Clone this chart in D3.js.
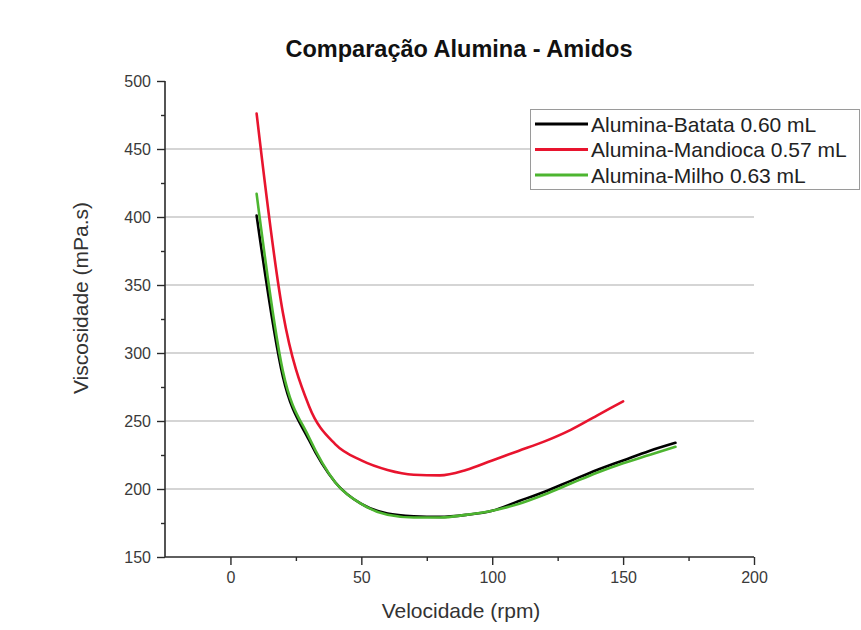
<!DOCTYPE html>
<html>
<head>
<meta charset="utf-8">
<script src="https://cdn.jsdelivr.net/npm/d3@7"></script>
<style>
  html, body { margin: 0; padding: 0; background: #fff; }
  svg { display: block; }
  text { font-family: "Liberation Sans", Arial, sans-serif; }
</style>
</head>
<body>
<svg id="chart" width="861" height="630"></svg>
<script>
// Rotational speed (rpm) at which viscosity was measured
const speedBatata = [10, 20, 30, 40, 50, 60, 70, 80, 90, 100, 110, 120, 130, 140, 150, 160, 170];
const speedMandioca = [10, 20, 30, 40, 50, 60, 70, 80, 90, 100, 110, 120, 130, 140, 150];
const speedMilho = [10, 20, 30, 40, 50, 60, 70, 80, 90, 100, 110, 120, 130, 140, 150, 160, 170];

// Viscosity (mPa.s) for each suspension
const viscBatata = [401, 283, 236, 205, 189, 182, 180, 179.5, 181, 184, 191, 198, 206, 214, 221, 228, 234];
const viscMandioca = [476, 330, 261, 233, 221, 214, 210.5, 210, 214, 221, 228, 235, 243.5, 254, 264.5];
const viscMilho = [417, 287, 238, 205, 189, 181, 179, 179, 181, 184, 189, 196, 204, 212, 219, 225, 231];

const seriesNames = ["Alumina-Batata 0.60 mL", "Alumina-Mandioca 0.57 mL", "Alumina-Milho 0.63 mL"];
const seriesColors = ["#000000", "#e8142e", "#4db530"];

const xTicks = [0, 50, 100, 150, 200];
const xMinorTicks = [25, 75, 125, 175];
const yTicks = [150, 200, 250, 300, 350, 400, 450, 500];
const yMinorTicks = [175, 225, 275, 325, 375, 425, 475];

const svg = d3.select("#chart");

const plotLeft = 165, plotRight = 754, plotTop = 81, plotBottom = 557;
const x = d3.scaleLinear().domain([-25, 200]).range([plotLeft, plotRight]);
const y = d3.scaleLinear().domain([150, 500]).range([plotBottom, plotTop]);

// Horizontal grid lines
svg.append("g")
  .selectAll("line")
  .data(yTicks.filter(v => v > 150 && v < 500))
  .join("line")
  .attr("x1", plotLeft).attr("x2", plotRight)
  .attr("y1", d => y(d)).attr("y2", d => y(d))
  .attr("stroke", "#ababab").attr("stroke-width", 1.2);

// Axes
const axisColor = "#2a2a2a";
const xAxis = svg.append("g").attr("transform", `translate(0,${plotBottom})`)
  .call(d3.axisBottom(x).tickValues(xTicks).tickSize(8).tickPadding(7).tickFormat(d3.format("d")));
const xMinor = svg.append("g").attr("transform", `translate(0,${plotBottom})`)
  .call(d3.axisBottom(x).tickValues(xMinorTicks).tickSize(4).tickFormat(""));
const yAxis = svg.append("g").attr("transform", `translate(${plotLeft},0)`)
  .call(d3.axisLeft(y).tickValues(yTicks).tickSize(8).tickPadding(6).tickFormat(d3.format("d")));
const yMinor = svg.append("g").attr("transform", `translate(${plotLeft},0)`)
  .call(d3.axisLeft(y).tickValues(yMinorTicks).tickSize(4).tickFormat(""));

[xAxis, xMinor, yAxis, yMinor].forEach(g => {
  g.select(".domain").attr("stroke", axisColor).attr("stroke-width", 1.6);
  g.selectAll(".tick line").attr("stroke", axisColor).attr("stroke-width", 1.4);
  g.selectAll(".tick text").attr("fill", "#3a3a3a").style("font-size", "16px");
});
xMinor.select(".domain").remove();
yMinor.select(".domain").remove();
// keep the axis lines flush, without the outer-tick hooks
xAxis.select(".domain").attr("d", `M${plotLeft},0H${plotRight}`);
yAxis.select(".domain").attr("d", `M0,${plotBottom}V${plotTop}`);

// Curves
const line = d3.line().curve(d3.curveMonotoneX).x(d => x(d[0])).y(d => y(d[1]));
const series = [
  d3.zip(speedBatata, viscBatata),
  d3.zip(speedMandioca, viscMandioca),
  d3.zip(speedMilho, viscMilho)
];
svg.append("g")
  .selectAll("path")
  .data(series)
  .join("path")
  .attr("d", line)
  .attr("fill", "none")
  .attr("stroke", (d, i) => seriesColors[i])
  .attr("stroke-width", 2.6)
  .attr("stroke-linejoin", "round")
  .attr("stroke-linecap", "round");

// Title
svg.append("text")
  .attr("x", 459).attr("y", 57)
  .attr("text-anchor", "middle")
  .attr("font-weight", "bold")
  .attr("fill", "#111")
  .style("font-size", "23.5px")
  .text("Comparação Alumina - Amidos");

// Axis titles
svg.append("text")
  .attr("x", 461).attr("y", 618)
  .attr("text-anchor", "middle")
  .attr("fill", "#333")
  .style("font-size", "21px")
  .text("Velocidade (rpm)");

svg.append("text")
  .attr("transform", "translate(88,298) rotate(-90)")
  .attr("text-anchor", "middle")
  .attr("fill", "#333")
  .style("font-size", "21px")
  .text("Viscosidade (mPa.s)");

// Legend
const legend = svg.append("g");
legend.append("rect")
  .attr("x", 530.5).attr("y", 109.5)
  .attr("width", 329).attr("height", 80)
  .attr("fill", "#fff")
  .attr("stroke", "#9a9a9a").attr("stroke-width", 1);
const rows = legend.selectAll("g.row")
  .data(seriesNames)
  .join("g")
  .attr("class", "row")
  .attr("transform", (d, i) => `translate(0,${124 + i * 25.5})`);
rows.append("line")
  .attr("x1", 535).attr("x2", 588)
  .attr("y1", 0).attr("y2", 0)
  .attr("stroke", (d, i) => seriesColors[i])
  .attr("stroke-width", 3);
rows.append("text")
  .attr("x", 591).attr("y", 0).attr("dy", "0.36em")
  .attr("fill", "#222")
  .style("font-size", "21px")
  .text(d => d);
</script>
</body>
</html>
